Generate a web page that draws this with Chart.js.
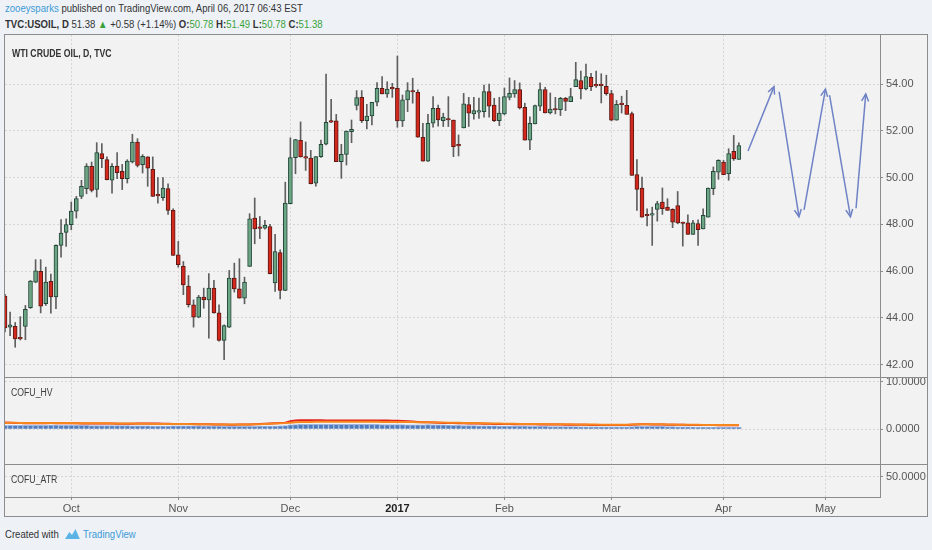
<!DOCTYPE html>
<html>
<head>
<meta charset="utf-8">
<title>WTI Crude Oil, D, TVC</title>
<script src="https://cdn.jsdelivr.net/npm/chart.js@4.4.1/dist/chart.umd.min.js"></script>
<style>
	html, body { margin: 0; padding: 0; }
	body { width: 932px; height: 550px; overflow: hidden; position: relative; background: #eef2f7; color: #333; font-family: "Liberation Sans", Arial, sans-serif; }
	.txt { position: absolute; white-space: nowrap; line-height: 13px; transform: scaleX(0.87); transform-origin: 0 50%; }
	#head1 { left: 5px; top: 2px; font-size: 11px; }
	#head2 { left: 5px; top: 18px; font-size: 11px; }
	.user { color: #3d9ad6; }
	.b { font-weight: bold; }
	.g { color: #3aa13a; }
	#frame { position: absolute; left: 4px; top: 34px; width: 922px; height: 481px; border: 1px solid #8c8c8c; background: #f2f2f2; }
	#IN-Chart { display: block; }
	.pane { font-size: 10px; color: #3c3c3c; z-index: 2; }
	#title { left: 12px; top: 47px; font-weight: bold; color: #333; }
	#hvName { left: 11px; top: 386px; }
	#atrName { left: 11px; top: 473px; }
	#foot { left: 5px; top: 528px; font-size: 11px; color: #333; }
	#foot svg { vertical-align: -2px; margin: 0 3px 0 6px; }
	#foot .tv { color: #3d9ad6; }
</style>
</head>
<body>
<div id="head1" class="txt"><span class="user">zooeysparks</span> published on TradingView.com, April 06, 2017 06:43 EST</div>
<div id="head2" class="txt"><span class="b">TVC:USOIL, D</span> 51.38 <span class="g">&#9650;</span> +0.58 (+1.14%) <span class="b">O:</span><span class="g">50.78</span> <span class="b">H:</span><span class="g">51.49</span> <span class="b">L:</span><span class="g">50.78</span> <span class="b">C:</span><span class="g">51.38</span></div>
<div id="frame"><canvas id="IN-Chart" width="922" height="481"></canvas></div>
<div id="title" class="txt pane">WTI CRUDE OIL, D, TVC</div>
<div id="hvName" class="txt pane">COFU_HV</div>
<div id="atrName" class="txt pane">COFU_ATR</div>
<div id="foot" class="txt">Created with<svg width="19" height="12" viewBox="0 0 19 12"><path d="M1 11 L6 4 L9 7 L13 1 L18 11 Z" fill="#5bb4e5"/></svg><span class="tv">TradingView</span></div>

<script>
// daily candles, 14 Sep 2016 .. 06 Apr 2017 (index = trading day)
var opens = [
	44.93, 43.60, 43.64, 43.15, 43.63, 44.43, 45.53, 45.99, 44.60, 45.56,
	44.89, 47.10, 47.66, 47.99, 48.57, 49.20, 49.53, 50.49, 49.50, 51.03,
	50.77, 49.89, 50.50, 50.27, 49.96, 50.67, 51.53, 50.56, 50.89, 50.36,
	49.25, 49.14, 49.53, 48.60, 46.70, 46.21, 45.36, 44.56, 44.03, 44.89,
	44.77, 45.27, 44.21, 43.03, 43.60, 45.70, 45.24, 44.84, 46.20, 48.27,
	47.86, 47.84, 47.91, 45.49, 46.79, 45.17, 48.89, 50.86, 51.60, 50.87,
	50.84, 49.76, 50.90, 51.43, 52.40, 52.43, 50.69, 51.00, 51.97, 53.09,
	53.44, 52.44, 52.64, 53.23, 53.83, 53.59, 53.85, 53.83, 52.43, 53.33,
	53.73, 53.66, 51.73, 50.71, 52.33, 52.97, 52.44, 52.50, 52.47, 51.37,
	52.13, 53.13, 52.73, 52.81, 52.83, 53.69, 53.11, 52.44, 52.73, 53.44,
	53.59, 53.77, 53.01, 51.61, 52.30, 53.06, 53.77, 52.77, 52.93, 52.91,
	53.40, 53.26, 53.90, 54.16, 53.80, 54.30, 53.97, 53.97, 53.91, 53.60,
	52.46, 53.15, 53.10, 52.74, 50.13, 49.56, 48.40, 48.40, 48.64, 48.96,
	48.74, 48.64, 48.81, 48.07, 48.07, 47.57, 48.04, 47.81, 48.31, 49.53,
	50.24, 50.67, 50.17, 51.13, 50.78
];
var highs = [
	45.00, 44.24, 43.80, 44.05, 44.53, 45.60, 46.49, 46.49, 46.17, 45.87,
	47.12, 48.21, 48.24, 48.96, 49.20, 49.89, 50.60, 50.67, 51.50, 51.46,
	50.89, 50.60, 51.07, 50.57, 50.77, 51.86, 51.67, 50.99, 50.90, 50.89,
	50.00, 50.00, 49.74, 48.67, 47.27, 46.41, 45.81, 44.77, 44.96, 45.27,
	45.89, 45.60, 44.56, 43.70, 46.03, 46.34, 46.53, 45.74, 48.46, 49.13,
	48.34, 48.17, 48.00, 47.57, 46.91, 49.81, 51.71, 51.64, 52.39, 51.53,
	51.17, 50.90, 51.61, 54.44, 53.36, 52.71, 51.43, 52.00, 52.47, 53.73,
	53.73, 53.14, 53.23, 54.07, 54.33, 54.11, 54.04, 55.21, 53.54, 54.07,
	54.26, 53.76, 52.33, 52.71, 53.47, 53.11, 52.76, 53.47, 52.47, 51.83,
	53.61, 53.44, 53.44, 53.41, 53.97, 54.01, 53.40, 53.44, 53.84, 54.27,
	54.16, 54.06, 53.19, 52.61, 53.11, 54.06, 53.87, 53.63, 53.44, 53.44,
	53.44, 53.83, 54.94, 54.56, 54.87, 54.47, 54.56, 54.45, 54.39, 53.74,
	53.31, 53.49, 53.74, 52.81, 50.77, 50.03, 48.67, 48.74, 48.99, 49.56,
	49.10, 48.67, 49.41, 48.10, 48.41, 48.17, 48.20, 48.67, 49.56, 50.46,
	50.77, 50.74, 51.24, 51.81, 51.49
];
var lows = [
	43.40, 43.24, 42.74, 43.05, 43.06, 44.40, 45.50, 44.21, 44.53, 44.20,
	44.39, 46.60, 47.06, 47.77, 48.27, 49.10, 49.31, 49.39, 49.17, 50.43,
	49.90, 49.34, 49.96, 49.49, 49.77, 50.63, 50.46, 50.20, 49.63, 49.20,
	48.91, 49.03, 48.43, 46.67, 46.17, 44.99, 44.46, 43.60, 44.00, 44.41,
	43.13, 44.20, 43.00, 42.21, 43.58, 45.10, 44.84, 44.60, 46.20, 47.17,
	47.39, 47.80, 45.88, 45.13, 44.81, 45.16, 48.88, 50.17, 50.88, 50.31,
	49.73, 49.64, 50.87, 51.40, 52.36, 50.69, 49.97, 50.54, 51.50, 52.90,
	52.36, 52.09, 52.26, 53.07, 53.59, 53.44, 53.44, 52.16, 52.19, 52.83,
	53.19, 51.73, 50.71, 50.70, 52.16, 52.21, 52.19, 52.19, 50.90, 50.93,
	52.13, 52.19, 52.51, 52.54, 52.59, 52.59, 52.40, 52.23, 52.69, 53.33,
	53.44, 52.94, 51.61, 51.20, 52.30, 52.87, 52.77, 52.73, 52.73, 52.66,
	52.87, 53.26, 53.90, 53.37, 53.76, 53.73, 53.87, 53.20, 53.53, 52.43,
	52.46, 52.77, 52.71, 50.10, 48.60, 48.31, 47.93, 47.10, 48.14, 48.43,
	48.60, 47.86, 48.03, 47.07, 47.57, 47.57, 47.10, 47.81, 48.31, 49.27,
	49.93, 50.13, 49.89, 50.74, 50.78
];
var closes = [
	43.57, 43.70, 43.10, 43.10, 44.36, 45.57, 46.01, 44.50, 45.53, 44.89,
	47.10, 47.63, 47.99, 48.57, 49.10, 49.63, 50.50, 49.46, 51.07, 50.81,
	49.91, 50.49, 50.21, 49.96, 50.71, 51.53, 50.53, 50.91, 50.41, 49.20,
	49.22, 49.56, 48.60, 46.67, 46.27, 45.41, 44.56, 44.03, 44.89, 44.77,
	45.27, 44.21, 43.03, 43.67, 45.70, 45.24, 44.84, 45.53, 48.24, 47.81,
	47.83, 47.96, 45.89, 46.84, 45.17, 48.91, 50.86, 51.63, 50.89, 50.84,
	49.74, 50.90, 51.43, 52.37, 52.38, 50.69, 51.00, 52.00, 52.07, 53.43,
	52.44, 52.64, 53.23, 53.83, 53.59, 53.79, 53.80, 52.43, 53.33, 53.73,
	53.67, 51.73, 50.71, 52.33, 52.97, 52.47, 52.59, 52.47, 51.33, 51.36,
	53.16, 52.76, 52.87, 52.87, 53.69, 53.06, 52.44, 52.77, 53.47, 53.61,
	53.77, 52.99, 51.61, 52.33, 53.09, 53.77, 52.77, 52.94, 52.90, 53.40,
	53.27, 53.47, 54.20, 53.80, 54.33, 53.90, 53.93, 53.94, 53.60, 52.46,
	53.14, 53.13, 52.71, 50.10, 49.50, 48.31, 48.37, 48.43, 48.89, 48.67,
	48.60, 48.10, 48.06, 48.04, 47.57, 48.07, 47.77, 48.39, 49.56, 50.27,
	50.74, 50.13, 51.03, 50.80, 51.38
];

// COFU_HV pane: histogram + two lines
var hvBars = [
	0.82, 0.84, 0.85, 0.85, 0.86, 0.84, 0.83, 0.85, 0.86, 0.88, 0.87, 0.86, 0.85,
	0.84, 0.83, 0.82, 0.82, 0.80, 0.80, 0.79, 0.80, 0.78, 0.77, 0.77, 0.76, 0.75, 0.74, 0.74, 0.72, 0.70, 0.70, 0.69, 0.70, 0.71,
	0.72, 0.73, 0.74, 0.73, 0.72, 0.70, 0.68, 0.68, 0.66, 0.65, 0.64, 0.63, 0.62, 0.62, 0.63, 0.64, 0.66, 0.67, 0.68, 0.70, 0.72, 0.76,
	0.95, 1.00, 1.02, 1.03, 1.03, 1.02, 1.02, 1.04, 1.05, 1.06, 1.06, 1.05, 1.05, 1.04, 1.04, 1.03, 1.02, 1.02, 1.01, 1.01, 1.00,
	0.98, 0.97, 0.96, 0.95, 0.95, 0.96, 0.97, 0.96, 0.94, 0.92, 0.90, 0.86, 0.84, 0.80, 0.78, 0.76, 0.74, 0.72, 0.72, 0.71, 0.70,
	0.70, 0.69, 0.68, 0.67, 0.66, 0.64, 0.62, 0.60, 0.60, 0.59, 0.58, 0.57, 0.56, 0.55, 0.55, 0.54, 0.54, 0.53, 0.53, 0.52, 0.52,
	0.52, 0.53, 0.53, 0.54, 0.58, 0.62, 0.64, 0.64, 0.63, 0.62, 0.60, 0.58, 0.56, 0.54, 0.52, 0.50, 0.48, 0.46, 0.45, 0.44, 0.43, 0.42, 0.42, 0.41, 0.40, 0.40
];
var hvOrange = [
	1.35, 1.36, 1.36, 1.35, 1.34, 1.33, 1.32, 1.33, 1.34, 1.34, 1.33, 1.32, 1.31,
	1.30, 1.29, 1.28, 1.27, 1.26, 1.26, 1.25, 1.25, 1.24, 1.23, 1.22, 1.21, 1.20, 1.19, 1.18, 1.16, 1.14, 1.12, 1.11, 1.10, 1.10,
	1.10, 1.10, 1.09, 1.08, 1.07, 1.06, 1.05, 1.04, 1.03, 1.02, 1.02, 1.01, 1.01, 1.02, 1.03, 1.05, 1.08, 1.12, 1.16, 1.20, 1.25, 1.30,
	1.40, 1.48, 1.52, 1.55, 1.56, 1.57, 1.58, 1.58, 1.59, 1.60, 1.60, 1.60, 1.59, 1.59, 1.58, 1.58, 1.57, 1.57, 1.56, 1.56, 1.55,
	1.54, 1.53, 1.52, 1.51, 1.50, 1.49, 1.48, 1.46, 1.44, 1.42, 1.40, 1.38, 1.36, 1.34, 1.32, 1.30, 1.28, 1.26, 1.24, 1.22, 1.20,
	1.18, 1.16, 1.15, 1.14, 1.13, 1.12, 1.11, 1.10, 1.09, 1.08, 1.07, 1.06, 1.05, 1.04, 1.03, 1.02, 1.01, 1.00, 0.99, 0.98, 0.97,
	0.96, 0.96, 0.97, 0.98, 1.02, 1.06, 1.08, 1.08, 1.07, 1.06, 1.04, 1.02, 1.00, 0.98, 0.97, 0.96, 0.95, 0.94, 0.93, 0.92, 0.91, 0.90, 0.90, 0.89, 0.89, 0.88
];
var hvRed = [
	1.45, 1.40, 1.35, 1.30, 1.28, 1.27, 1.27, 1.28, 1.29, 1.30, 1.29, 1.28, 1.27,
	1.26, 1.25, 1.24, 1.23, 1.22, 1.22, 1.21, 1.21, 1.20, 1.19, 1.19, 1.18, 1.18, 1.20, 1.22, 1.22, 1.21, 1.20, 1.18, 1.16, 1.14,
	1.12, 1.11, 1.10, 1.09, 1.08, 1.06, 1.04, 1.02, 1.00, 0.99, 0.98, 0.98, 0.99, 1.00, 1.02, 1.05, 1.10, 1.15, 1.20, 1.26, 1.32, 1.40,
	1.70, 1.85, 1.90, 1.90, 1.89, 1.88, 1.88, 1.87, 1.87, 1.86, 1.86, 1.85, 1.85, 1.85, 1.84, 1.84, 1.84, 1.83, 1.83, 1.83, 1.82,
	1.80, 1.76, 1.70, 1.62, 1.55, 1.50, 1.46, 1.42, 1.38, 1.35, 1.32, 1.30, 1.28, 1.26, 1.24, 1.22, 1.20, 1.18, 1.16, 1.14, 1.12,
	1.10, 1.09, 1.08, 1.07, 1.06, 1.05, 1.04, 1.03, 1.02, 1.01, 1.00, 0.99, 0.98, 0.97, 0.96, 0.95, 0.94, 0.93, 0.92, 0.92, 0.91,
	0.90, 0.90, 0.91, 0.93, 0.98, 1.02, 1.04, 1.04, 1.03, 1.02, 1.00, 0.98, 0.96, 0.95, 0.94, 0.93, 0.92, 0.91, 0.90, 0.89, 0.88, 0.87, 0.87, 0.86, 0.86, 0.85
];

// drawn forecast arrows (start -> tip), in bar index / price
var arrowFromIdx = [145.8, 151.9, 156.8, 161.8, 167.0];
var arrowFromVal = [51.14, 53.68, 48.62, 53.54, 48.69];
var arrowToIdx = [150.9, 155.8, 161.0, 165.9, 168.9];
var arrowToVal = [53.90, 48.33, 53.79, 48.33, 53.58];

// axes
var monthIdx = [13, 34, 56, 77, 98, 119, 141, 161];
var monthLabels = ['Oct', 'Nov', 'Dec', '2017', 'Feb', 'Mar', 'Apr', 'May'];
var priceTicks = [42, 44, 46, 48, 50, 52, 54];
var hvTicks = [0, 10];
var atrTicks = [50];

var upFill = '#6ba583', upLine = '#23463a';
var downFill = '#d3281e', downLine = '#5b1a13';
var wickColor = '#5f5f5f';
var arrowColor = '#6f82c6';
var frameColor = '#8c8c8c';

var myChart;

function candleColor(c, up, down) {
	var i = c.dataIndex;
	return closes[i] >= opens[i] ? up : down;
}

function paneAxis(tickValues, min, max, weight, digits) {
	return {
		type: 'linear',
		axis: 'y',
		position: 'right',
		stack: 'panes',
		stackWeight: weight,
		min: min,
		max: max,
		afterBuildTicks: function(scale) {
			scale.ticks = tickValues.map(function(v) { return {value: v}; });
		},
		afterFit: function(scale) {
			scale.width = 47;
			scale.paddingTop = 0;
			scale.paddingBottom = 0;
		},
		ticks: {
			padding: 3,
			color: '#555',
			callback: function(v) { return Number(v).toFixed(digits); }
		},
		grid: { color: '#d6d6d6', tickColor: frameColor, tickLength: 3 },
		border: { display: true, color: frameColor, dash: [2, 2] }
	};
}

// pane separators across the full width
var paneLines = {
	id: 'paneLines',
	afterDraw: function(chart) {
		var ctx = chart.ctx;
		ctx.save();
		ctx.strokeStyle = frameColor;
		ctx.lineWidth = 1;
		['yhv', 'yatr'].forEach(function(id) {
			var y = Math.round(chart.scales[id].top) + 0.5;
			ctx.beginPath();
			ctx.moveTo(0, y);
			ctx.lineTo(chart.width, y);
			ctx.stroke();
		});
		ctx.restore();
	}
};

// arrow heads on the drawn forecast lines
var arrowHeads = {
	id: 'arrowHeads',
	afterDatasetsDraw: function(chart) {
		var ctx = chart.ctx;
		chart.data.datasets.forEach(function(ds, k) {
			if(!ds.arrow) return;
			var pts = chart.getDatasetMeta(k).data;
			var a = pts[0], b = pts[1];
			var ang = Math.atan2(b.y - a.y, b.x - a.x);
			var len = 8;
			ctx.save();
			ctx.strokeStyle = ds.borderColor;
			ctx.lineWidth = ds.borderWidth;
			ctx.beginPath();
			ctx.moveTo(b.x - len * Math.cos(ang - 0.45), b.y - len * Math.sin(ang - 0.45));
			ctx.lineTo(b.x, b.y);
			ctx.lineTo(b.x - len * Math.cos(ang + 0.45), b.y - len * Math.sin(ang + 0.45));
			ctx.stroke();
			ctx.restore();
		});
	}
};

function buildDatasets() {
	var wickData = [], bodyData = [], hvBarData = [], hvOrangeData = [], hvRedData = [];
	for(var i = 0; i < opens.length; i++) {
		wickData.push({x: i, y: [lows[i], highs[i]]});
		bodyData.push({x: i, y: [opens[i], closes[i]]});
		hvBarData.push({x: i, y: hvBars[i]});
		hvOrangeData.push({x: i, y: hvOrange[i]});
		hvRedData.push({x: i, y: hvRed[i]});
	}

	var datasets = [
		{
			type: 'bar', label: 'wick', data: wickData, order: 2, grouped: false,
			barThickness: 1, backgroundColor: wickColor, borderWidth: 0
		},
		{
			type: 'bar', label: 'body', data: bodyData, order: 1, grouped: false,
			barThickness: 4, minBarLength: 1.5, borderWidth: 1, borderSkipped: false,
			backgroundColor: function(c) { return candleColor(c, upFill, downFill); },
			borderColor: function(c) { return candleColor(c, upLine, downLine); }
		},
		{
			type: 'bar', label: 'HV', data: hvBarData, yAxisID: 'yhv', order: 6, grouped: false,
			barThickness: 5, backgroundColor: '#4f7bbf', borderColor: '#9fb7dc', borderWidth: 1
		},
		{
			type: 'line', label: 'HV red', data: hvRedData, yAxisID: 'yhv', order: 5,
			borderColor: '#e5231b', borderWidth: 2, pointRadius: 0
		},
		{
			type: 'line', label: 'HV orange', data: hvOrangeData, yAxisID: 'yhv', order: 4,
			borderColor: '#f7861f', borderWidth: 2, pointRadius: 0
		}
	];

	for(var k = 0; k < arrowFromIdx.length; k++) {
		datasets.push({
			type: 'line', label: 'forecast ' + k, arrow: true, order: 0,
			data: [{x: arrowFromIdx[k], y: arrowFromVal[k]}, {x: arrowToIdx[k], y: arrowToVal[k]}],
			borderColor: arrowColor, borderWidth: 1.5, pointRadius: 0
		});
	}
	return datasets;
}

function buildConfig() {
	return {
		type: 'bar',
		data: { datasets: buildDatasets() },
		options: {
			responsive: false,
			animation: false,
			layout: { padding: 0 },
			plugins: { legend: { display: false }, tooltip: { enabled: false } },
			scales: {
				x: {
					type: 'linear',
					min: 0,
					max: 171.7,
					offset: false,
					afterBuildTicks: function(scale) {
						scale.ticks = monthIdx.map(function(v) { return {value: v}; });
					},
					afterFit: function(scale) {
						scale.height = 19;
						scale.paddingLeft = 0;
						scale.paddingRight = 0;
					},
					ticks: {
						autoSkip: false,
						maxRotation: 0,
						padding: 2,
						color: function(c) { return c.tick && c.tick.label === '2017' ? '#222' : '#555'; },
						font: function(c) { return c.tick && c.tick.label === '2017' ? {weight: 'bold', size: 11} : {size: 11}; },
						callback: function(v) { return monthLabels[monthIdx.indexOf(v)]; }
					},
					grid: { offset: false, color: '#d6d6d6', tickColor: frameColor, tickLength: 3 },
					border: { display: true, color: frameColor, dash: [2, 2] }
				},
				y: paneAxis(priceTicks, 41.465, 56.11, 342, 2),
				yhv: paneAxis(hvTicks, -7.29, 10.99, 87, 4),
				yatr: paneAxis(atrTicks, 29.7, 62.7, 33, 4)
			}
		},
		plugins: [paneLines, arrowHeads]
	};
}

function init() {
	Chart.defaults.font.family = '"Liberation Sans", Arial, sans-serif';
	Chart.defaults.font.size = 11;
	Chart.defaults.color = '#555';
	myChart = new Chart(document.getElementById('IN-Chart'), buildConfig());
}

init();
</script>
</body>
</html>
